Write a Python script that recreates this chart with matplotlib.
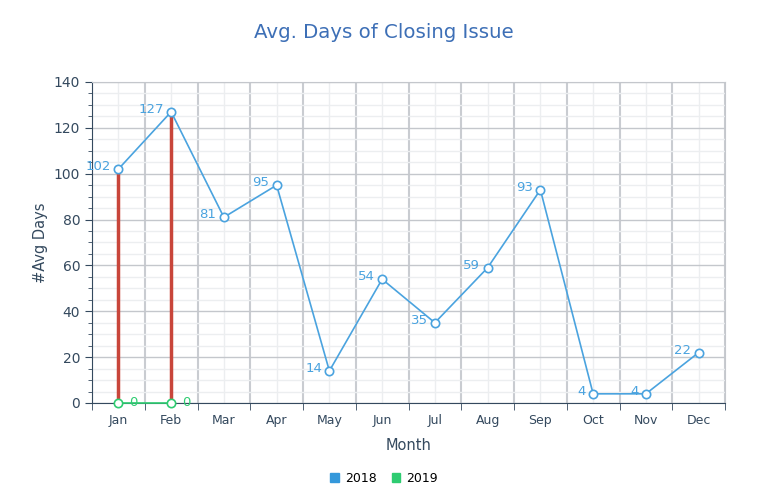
import matplotlib
matplotlib.use('Agg')
import matplotlib.pyplot as plt
from matplotlib.ticker import MultipleLocator, FixedLocator
from matplotlib.patches import Patch

months = ["Jan", "Feb", "Mar", "Apr", "May", "Jun", "Jul", "Aug", "Sep", "Oct", "Nov", "Dec"]
days_2018 = [102, 127, 81, 95, 14, 54, 35, 59, 93, 4, 4, 22]
months_2019 = ["Jan", "Feb"]
days_2019 = [0, 0]

BLUE = '#4aa3df'
GREEN = '#2ecc71'
RED = '#c8453a'
TEXT = '#34495e'

plt.rcParams['font.family'] = ['DejaVu Sans']
fig = plt.figure(figsize=(7.68, 5.0), dpi=100)
ax = fig.add_axes([92 / 768, 97 / 500, 633 / 768, 321 / 500])

x18 = list(range(len(months)))
x19 = [months.index(m) for m in months_2019]

# red drop lines from 2019 points up to 2018 values
for xi in x19:
    ax.vlines(xi, 0, days_2018[xi], color=RED, linewidth=2.5, zorder=3)

ax.plot(x18, days_2018, '-o', color=BLUE, linewidth=1.2, markersize=6,
        markerfacecolor='white', markeredgecolor=BLUE, markeredgewidth=1.2, zorder=4, clip_on=False)
ax.plot(x19, days_2019, '-o', color=GREEN, linewidth=1.2, markersize=6,
        markerfacecolor='white', markeredgecolor=GREEN, markeredgewidth=1.2, zorder=4, clip_on=False)

for xi, v in zip(x18, days_2018):
    ax.text(xi - 0.14, v + 1, str(v), color=BLUE, fontsize=9.5, ha='right', va='center')
for xi, v in zip(x19, days_2019):
    ax.text(xi + 0.2, v, str(v), color=GREEN, fontsize=9.5, ha='left', va='center')

ax.set_xlim(-0.5, 11.5)
ax.set_ylim(0, 140)
ax.set_xticks(x18)
ax.set_xticklabels(months)
ax.xaxis.set_minor_locator(FixedLocator([i - 0.5 for i in range(13)]))
ax.yaxis.set_major_locator(MultipleLocator(20))
ax.yaxis.set_minor_locator(MultipleLocator(5))

ax.grid(which='major', axis='y', color='#c4c7cc', linewidth=1)
ax.grid(which='minor', axis='y', color='#eceef0', linewidth=1)
ax.grid(which='minor', axis='x', color='#c9ccd1', linewidth=1.5)
ax.grid(which='major', axis='x', color='#eceef0', linewidth=1)
ax.set_axisbelow(True)

ax.tick_params(axis='x', which='major', length=0, pad=8, labelsize=9, labelcolor=TEXT)
ax.tick_params(axis='x', which='minor', length=5, color=TEXT)
ax.tick_params(axis='y', which='major', length=5, color=TEXT, labelsize=10, labelcolor=TEXT)
ax.tick_params(axis='y', which='minor', length=3, color=TEXT)

for s in ['left', 'bottom']:
    ax.spines[s].set_color(TEXT)
ax.spines['top'].set_color('#c4c7cc')
ax.spines['right'].set_color('#c4c7cc')

ax.set_xlabel("Month", color=TEXT, fontsize=10.5, labelpad=8)
ax.set_ylabel("#Avg Days", color=TEXT, fontsize=10.5, labelpad=4)

fig.text(0.5, 1 - 32 / 500, "Avg. Days of Closing Issue", ha='center', va='center',
         color='#3d6fb6', fontsize=14.2)

handles = [Patch(color='#3498db', label='2018'), Patch(color=GREEN, label='2019')]
fig.legend(handles=handles, loc='center', bbox_to_anchor=(0.5, 1 - 478 / 500), ncol=2,
           frameon=False, fontsize=9, handlelength=0.7, handleheight=0.7, handletextpad=0.5,
           columnspacing=1.2)

fig.savefig('out.png', dpi=100)
